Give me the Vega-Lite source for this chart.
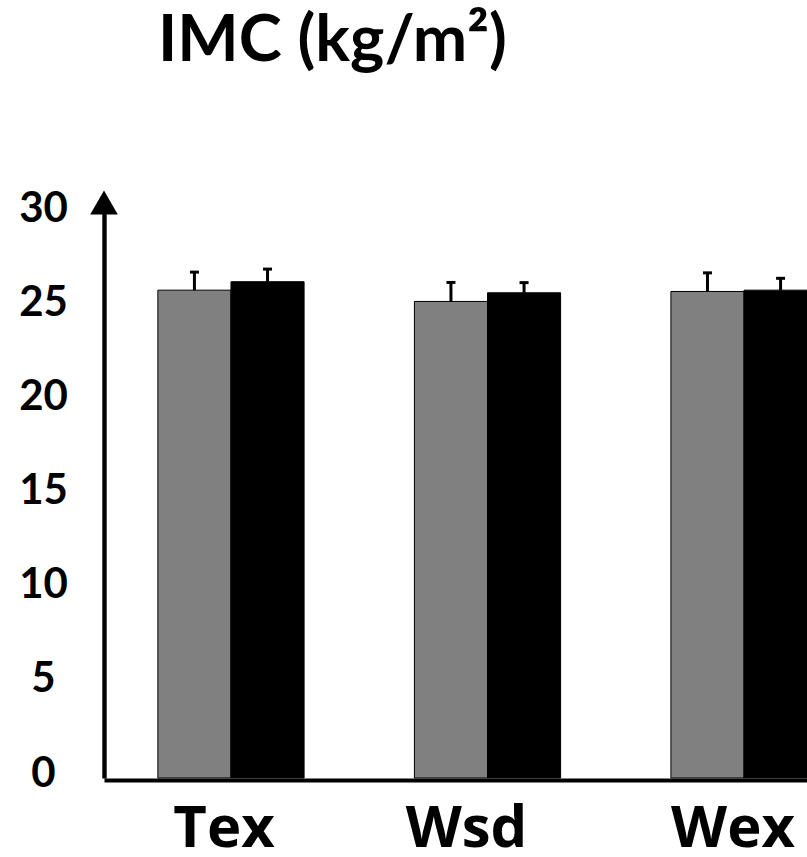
{
  "$schema": "https://vega.github.io/schema/vega-lite/v6.json",
  "autosize": {"type": "none"},
  "padding": {"left": 104, "top": 195, "right": 0, "bottom": 79},
  "width": 767,
  "height": 583,
  "background": "white",
  "title": {
    "text": "IMC (kg/m²)",
    "anchor": "start",
    "frame": "group",
    "dx": 54,
    "dy": 33,
    "font": "Lato",
    "fontSize": 65,
    "fontWeight": "bold",
    "color": "black",
    "baseline": "alphabetic",
    "offset": 95
  },
  "config": {"view": {"stroke": null}},
  "layer": [
    {
      "data": {
        "values": [
          {"group": "Tex", "series": "A", "mean": 25.94, "upper": 26.9},
          {"group": "Tex", "series": "B", "mean": 26.39, "upper": 27.06},
          {"group": "Wsd", "series": "A", "mean": 25.34, "upper": 26.35},
          {"group": "Wsd", "series": "B", "mean": 25.8, "upper": 26.34},
          {"group": "Wex", "series": "A", "mean": 25.87, "upper": 26.86},
          {"group": "Wex", "series": "B", "mean": 25.94, "upper": 26.57}
        ]
      },
      "encoding": {
        "x": {
          "field": "group",
          "type": "nominal",
          "sort": ["Tex", "Wsd", "Wex"],
          "scale": {"paddingInner": 0.43, "paddingOuter": 0.21},
          "axis": {
            "title": null,
            "ticks": false,
            "tickSize": 0,
            "offset": 2,
            "domainColor": "black",
            "domainWidth": 4,
            "labelFont": "Open Sans",
            "labelFontSize": 58,
            "labelFontWeight": "bold",
            "labelColor": "black",
            "labelPadding": 20,
            "labelOffset": {
              "condition": [
                {"test": "datum.value === 'Tex'", "value": -7},
                {"test": "datum.value === 'Wsd'", "value": -21}
              ],
              "value": -11
            },
            "labelAngle": 0
          }
        },
        "xOffset": {
          "field": "series",
          "type": "nominal",
          "scale": {"paddingInner": 0, "paddingOuter": 0}
        }
      },
      "layer": [
        {
          "mark": {"type": "bar", "stroke": "black", "strokeWidth": 1},
          "encoding": {
            "y": {
              "field": "mean",
              "type": "quantitative",
              "stack": null,
              "scale": {"domain": [0, 31], "nice": false},
              "axis": {
                "values": [0, 5, 10, 15, 20, 25, 30],
                "title": null,
                "ticks": false,
                "tickSize": 0,
                "grid": false,
                "domainColor": "black",
                "domainWidth": 4.4,
                "labelFont": "Lato",
                "labelFontSize": 42,
                "labelFontWeight": "bold",
                "labelColor": "black",
                "labelAlign": "center",
                "labelPadding": 61,
                "labelOffset": -5
              }
            },
            "color": {
              "field": "series",
              "type": "nominal",
              "scale": {"domain": ["A", "B"], "range": ["#808080", "#000000"]},
              "legend": null
            }
          }
        },
        {
          "mark": {"type": "rule", "strokeWidth": 3, "color": "black"},
          "encoding": {
            "y": {"field": "mean", "type": "quantitative"},
            "y2": {"field": "upper"}
          }
        },
        {
          "mark": {"type": "tick", "thickness": 3, "size": 9, "color": "black", "opacity": 1},
          "encoding": {
            "y": {"field": "upper", "type": "quantitative"}
          }
        }
      ]
    },
    {
      "data": {"values": [{"marker": "axis arrow"}]},
      "mark": {"type": "point", "shape": "triangle-up", "filled": true, "size": 760, "color": "black", "opacity": 1},
      "encoding": {
        "x": {"datum": 0, "type": "quantitative", "scale": {"domain": [0, 1]}, "axis": null},
        "y": {"datum": 30.6, "type": "quantitative"}
      }
    }
  ],
  "resolve": {"scale": {"x": "independent"}}
}
